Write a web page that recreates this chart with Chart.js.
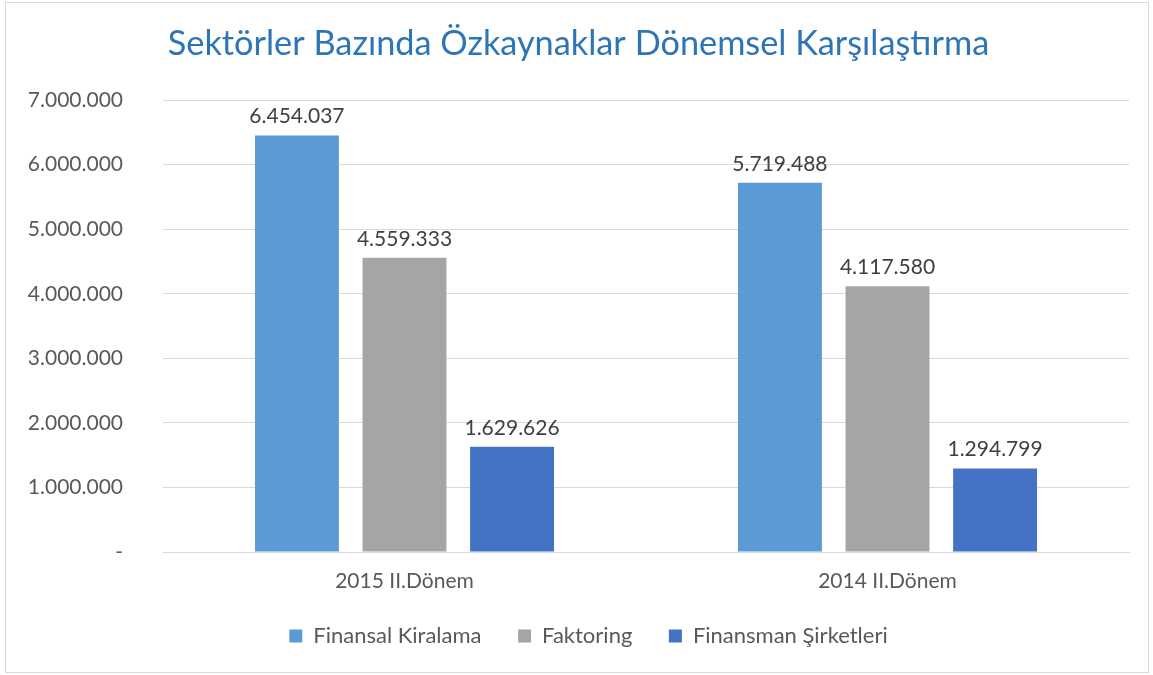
<!DOCTYPE html>
<html>
<head>
<meta charset="utf-8">
<script src="https://cdn.jsdelivr.net/npm/chart.js@4"></script>
<style>
html,body{margin:0;padding:0;background:#fff;}
#wrap{position:absolute;left:0;top:0;width:1153px;height:675px;}
</style>
</head>
<body>
<div id="wrap"><canvas id="c" width="1153" height="675"></canvas></div>
<script>
const categories = ["2015 II.Dönem", "2014 II.Dönem"];
const seriesNames = ["Finansal Kiralama", "Faktoring", "Finansman Şirketleri"];
const finansalKiralama = [6454037, 5719488];
const faktoring = [4559333, 4117580];
const finansmanSirketleri = [1629626, 1294799];
const colors = ["#5B9BD5", "#A5A5A5", "#4472C4"];
const titleText = "Sektörler Bazında Özkaynaklar Dönemsel Karşılaştırma";

const FONT = "Lato, 'Liberation Sans', sans-serif";
function fmt(v){
  if (v === 0) return "-";
  return Math.round(v).toString().replace(/\B(?=(\d{3})+(?!\d))/g, ".");
}

const borderPlugin = {
  id: 'border',
  beforeDraw(chart){
    const ctx = chart.ctx;
    ctx.save();
    ctx.fillStyle = '#fff';
    ctx.fillRect(0,0,chart.width,chart.height);
    ctx.strokeStyle = '#d9d9d9';
    ctx.lineWidth = 1;
    ctx.strokeRect(5.5, 2.5, 1143, 670);
    ctx.restore();
  }
};

const legendShift = {
  id: 'legendShift',
  afterLayout(chart){
    if (chart.legend) { chart.legend.left += 10; chart.legend.right += 10; }
  }
};

const labelPlugin = {
  id: 'valueLabels',
  afterDatasetsDraw(chart){
    const ctx = chart.ctx;
    ctx.save();
    ctx.font = "21px " + FONT;
    ctx.fillStyle = '#404040';
    ctx.textAlign = 'center';
    ctx.textBaseline = 'alphabetic';
    chart.data.datasets.forEach((ds, i) => {
      const meta = chart.getDatasetMeta(i);
      meta.data.forEach((bar, j) => {
        ctx.fillText(fmt(ds.data[j]), bar.x, bar.y - 12);
      });
    });
    ctx.restore();
  }
};

new Chart(document.getElementById('c'), {
  type: 'bar',
  data: {
    labels: categories,
    datasets: [
      {label: seriesNames[0], data: finansalKiralama, backgroundColor: colors[0]},
      {label: seriesNames[1], data: faktoring, backgroundColor: colors[1]},
      {label: seriesNames[2], data: finansmanSirketleri, backgroundColor: colors[2]}
    ]
  },
  options: {
    responsive: false,
    animation: false,
    devicePixelRatio: 1,
    categoryPercentage: 0.668,
    barPercentage: 0.78,
    layout: {padding: {left: 28, right: 24, top: 10, bottom: 18}},
    plugins: {
      title: {
        display: true,
        text: titleText,
        color: '#2E75B6',
        font: {family: FONT, size: 34.3, weight: 'normal'},
        padding: {top: 13, bottom: 36}
      },
      legend: {
        position: 'bottom',
        labels: {
          boxWidth: 13, boxHeight: 13,
          color: '#595959',
          font: {family: FONT, size: 22},
          padding: 14,
          generateLabels(chart) {
            const items = Chart.defaults.plugins.legend.labels.generateLabels(chart);
            items.forEach((it, i) => { if (i < items.length - 1) it.text += '    '; });
            return items;
          }
        }
      },
      tooltip: {enabled: false}
    },
    scales: {
      x: {
        grid: {display: false, drawTicks: false},
        border: {display: true, color: '#d9d9d9'},
        ticks: {color: '#595959', font: {family: FONT, size: 21}, padding: 17},
        afterFit(s) { s.height = 59; }
      },
      y: {
        min: 0, max: 7000000,
        grid: {color: '#d9d9d9', drawTicks: false},
        border: {display: false},
        ticks: {
          stepSize: 1000000,
          color: '#595959',
          font: {family: FONT, size: 21},
          padding: 40,
          callback: (v) => fmt(v)
        },
        afterFit(s) { s.width = 135; }
      }
    }
  },
  plugins: [borderPlugin, legendShift, labelPlugin]
});
</script>
</body>
</html>
